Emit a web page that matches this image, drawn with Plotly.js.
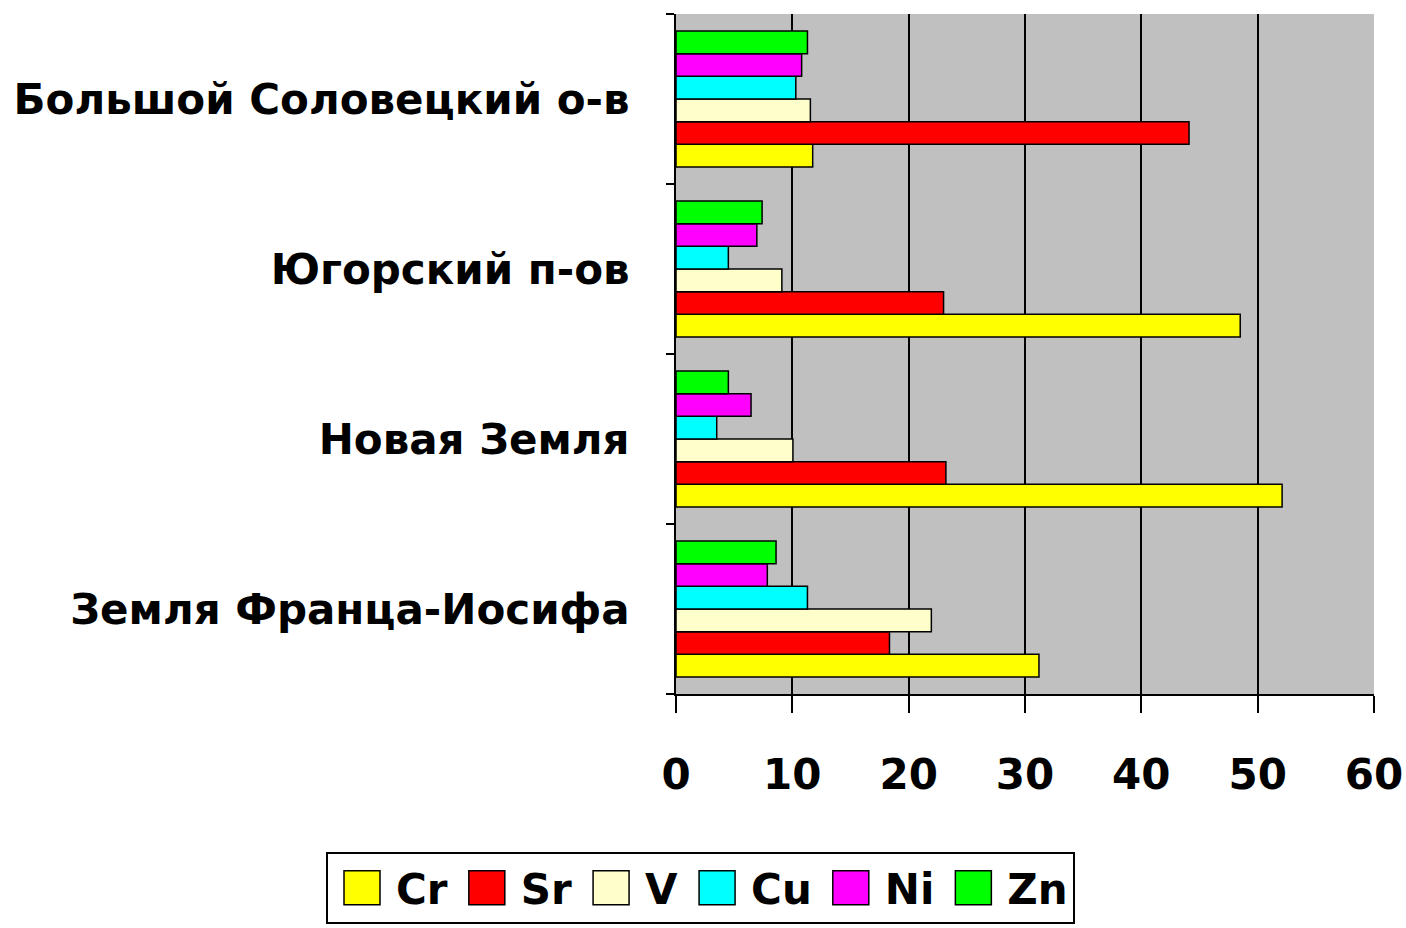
<!DOCTYPE html>
<html>
<head>
<meta charset="utf-8">
<script src="https://cdn.plot.ly/plotly-3.0.1.min.js"></script>
<style>html,body{margin:0;padding:0;background:#fff;}#chart{width:1406px;height:928px;}</style>
</head>
<body>
<div id="chart"></div>
<script>
// Categories (bottom to top)
const regions = ["Земля Франца-Иосифа", "Новая Земля", "Югорский п-ов", "Большой Соловецкий о-в"];
const elements = ["Cr", "Sr", "V", "Cu", "Ni", "Zn"];
const colors = ["#FFFF00", "#FF0000", "#FFFFCC", "#00FFFF", "#FF00FF", "#00FF00"];
// Values per element, in the order of regions
const Cr = [31.2, 52.1, 48.5, 11.75];
const Sr = [18.35, 23.2, 23.0, 44.1];
const V  = [21.95, 10.05, 9.1, 11.55];
const Cu = [11.3, 3.5, 4.5, 10.3];
const Ni = [7.85, 6.45, 6.95, 10.8];
const Zn = [8.6, 4.5, 7.4, 11.3];
const series = [Cr, Sr, V, Cu, Ni, Zn];
const xTicks = [0, 10, 20, 30, 40, 50, 60];

const FONT = "DejaVu Sans, Verdana, sans-serif";

const traces = elements.map((name, i) => ({
  type: "bar",
  orientation: "h",
  name: name,
  y: regions,
  x: series[i],
  marker: {color: colors[i], line: {color: "#000", width: 1.5}},
  hoverinfo: "x+name"
}));

const PL = 676, PR = 1374, PT = 14, PB = 694;
const PW = PR - PL, PH = PB - PT;

const layout = {
  width: 1406, height: 928,
  margin: {l: PL, r: 1406 - PR, t: PT, b: 928 - PB, pad: 0, autoexpand: false},
  paper_bgcolor: "#fff",
  plot_bgcolor: "#C0C0C0",
  barmode: "group",
  bargap: 0.2,
  bargroupgap: 0,
  font: {family: FONT, color: "#000"},
  xaxis: {
    range: [0, 60],
    tickvals: xTicks,
    ticktext: xTicks.map(String),
    showgrid: true, gridcolor: "#000", gridwidth: 2,
    zeroline: false,
    showline: true, linecolor: "#000", linewidth: 2,
    ticks: "outside", ticklen: 17, tickwidth: 2, tickcolor: "#000",
    ticklabelstandoff: 26,
    tickfont: {family: FONT, size: 42, color: "#000", weight: "bold"},
    fixedrange: true
  },
  yaxis: {
    type: "category",
    categoryorder: "array", categoryarray: regions,
    tickson: "boundaries",
    showgrid: false, zeroline: false,
    showline: true, linecolor: "#000", linewidth: 2,
    ticks: "outside", ticklen: 8, tickwidth: 2, tickcolor: "#000",
    ticklabelstandoff: 36,
    tickfont: {family: FONT, size: 42, color: "#000", weight: "bold"},
    fixedrange: true
  },
  showlegend: true,
  legend: {
    orientation: "h",
    traceorder: "normal",
    xref: "paper", yref: "paper",
    x: (326 - PL) / PW, xanchor: "left",
    y: (PB - 852) / PH, yanchor: "top",
    bgcolor: "#fff",
    bordercolor: "#000", borderwidth: 2,
    itemwidth: 58,
    font: {family: FONT, size: 42, color: "#000", weight: "bold"},
    itemclick: false, itemdoubleclick: false
  }
};

Plotly.newPlot("chart", traces, layout, {staticPlot: true}).then(() => {
  document.querySelectorAll("#chart .legend .legendpoints path").forEach(p => {
    p.setAttribute("d", "M18,17H-18V-17H18Z");
    p.style.strokeWidth = "1.5px";
  });
});
</script>
</body>
</html>
